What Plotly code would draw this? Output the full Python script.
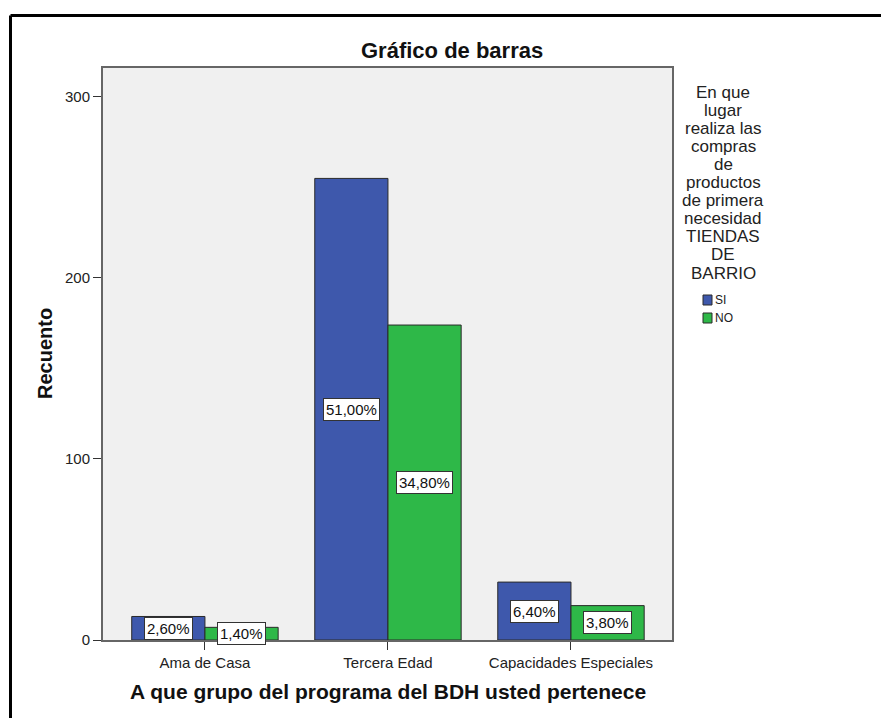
import plotly.graph_objects as go

# Data: counts per group and response, N = 500
categories = ["Ama de Casa", "Tercera Edad", "Capacidades Especiales"]
series_names = ["SI", "NO"]
counts_si = [13, 255, 32]
counts_no = [7, 174, 19]
total_n = 500
y_ticks = [0, 100, 200, 300]
legend_title_lines = ["En que", "lugar", "realiza las", "compras", "de", "productos",
                      "de primera", "necesidad", "TIENDAS", "DE", "BARRIO"]
colors = ["#3E58AC", "#2EB848"]

W, H = 881, 718
ML, MR, MT, MB = 103, 209, 68, 78
PW, PH = W - ML - MR, H - MT - MB
FONT = "Liberation Sans, Arial, sans-serif"


def px(x):
    return (x - ML) / PW


def py(y):
    return (H - MB - y) / PH


def pct_label(v):
    return f"{100 * v / total_n:.2f}".replace(".", ",") + "%"


fig = go.Figure()
for name, vals, col in zip(series_names, [counts_si, counts_no], colors):
    fig.add_trace(go.Bar(
        x=categories, y=vals, name=name,
        marker=dict(color=col, line=dict(color="#2a2a2a", width=1)),
        showlegend=False,
    ))

annotations = []
# value labels in the middle of each bar
bargap = 0.2
half = (1 - bargap) / 4
for s, vals in enumerate([counts_si, counts_no]):
    off = -half if s == 0 else half
    for i, v in enumerate(vals):
        annotations.append(dict(
            x=i + off, y=v / 2, xref="x", yref="y", text=pct_label(v),
            showarrow=False, font=dict(family=FONT, size=15, color="#111"),
            bgcolor="white", bordercolor="#333", borderwidth=1, borderpad=2,
        ))

# chart title and axis titles
annotations.append(dict(x=px(452), y=py(50), xref="paper", yref="paper",
                        text="<b>Gráfico de barras</b>", showarrow=False,
                        font=dict(family=FONT, size=22, color="#111"),
                        xanchor="center", yanchor="middle"))
annotations.append(dict(x=px(45), y=py(354), xref="paper", yref="paper",
                        text="<b>Recuento</b>", showarrow=False, textangle=-90,
                        font=dict(family=FONT, size=20, color="#111"),
                        xanchor="center", yanchor="middle"))
annotations.append(dict(x=px(388), y=py(691), xref="paper", yref="paper",
                        text="<b>A que grupo del programa del BDH usted pertenece</b>",
                        showarrow=False, font=dict(family=FONT, size=21, color="#111"),
                        xanchor="center", yanchor="middle"))

# legend title, one line per annotation for tight spacing
for k, line in enumerate(legend_title_lines):
    annotations.append(dict(x=px(723), y=py(92 + 18.1 * k), xref="paper", yref="paper",
                            text=line, showarrow=False,
                            font=dict(family=FONT, size=17, color="#222"),
                            xanchor="center", yanchor="middle"))

shapes = []
# legend swatches and labels
for k, (name, col) in enumerate(zip(series_names, colors)):
    yc = 300 + 18 * k
    shapes.append(dict(type="rect", xref="paper", yref="paper",
                       x0=px(703), x1=px(712), y0=py(yc + 5), y1=py(yc - 5),
                       fillcolor=col, line=dict(color="#2a2a2a", width=1)))
    annotations.append(dict(x=px(713), y=py(yc), xref="paper", yref="paper",
                            text=name, showarrow=False,
                            font=dict(family=FONT, size=12, color="#222"),
                            xanchor="left", yanchor="middle"))

# outer frame lines (top and left)
shapes.append(dict(type="line", xref="paper", yref="paper",
                   x0=px(10.5), x1=px(W + 5), y0=py(15.5), y1=py(15.5),
                   line=dict(color="black", width=3)))
shapes.append(dict(type="line", xref="paper", yref="paper",
                   x0=px(10.5), x1=px(10.5), y0=py(15.5), y1=py(H + 5),
                   line=dict(color="black", width=3)))

fig.update_layout(
    width=W, height=H,
    margin=dict(l=ML, r=MR, t=MT, b=MB),
    paper_bgcolor="white", plot_bgcolor="#F0F0F0",
    barmode="group", bargap=bargap, bargroupgap=0,
    font=dict(family=FONT, size=15, color="#222"),
    annotations=annotations, shapes=shapes,
    showlegend=False,
)
fig.update_xaxes(
    range=[-0.557, 2.552], showgrid=False, zeroline=False,
    showline=True, linecolor="#666", linewidth=2, mirror=True,
    ticks="outside", ticklen=8, tickcolor="#333", tickwidth=1,
    tickfont=dict(family=FONT, size=15, color="#222"),
)
fig.update_yaxes(
    range=[0, 316], tickvals=y_ticks, showgrid=False, zeroline=False,
    showline=True, linecolor="#666", linewidth=2, mirror=True,
    ticks="outside", ticklen=8, tickcolor="#333", tickwidth=1,
    tickfont=dict(family=FONT, size=15, color="#222"),
)

fig.write_html("out.html")
